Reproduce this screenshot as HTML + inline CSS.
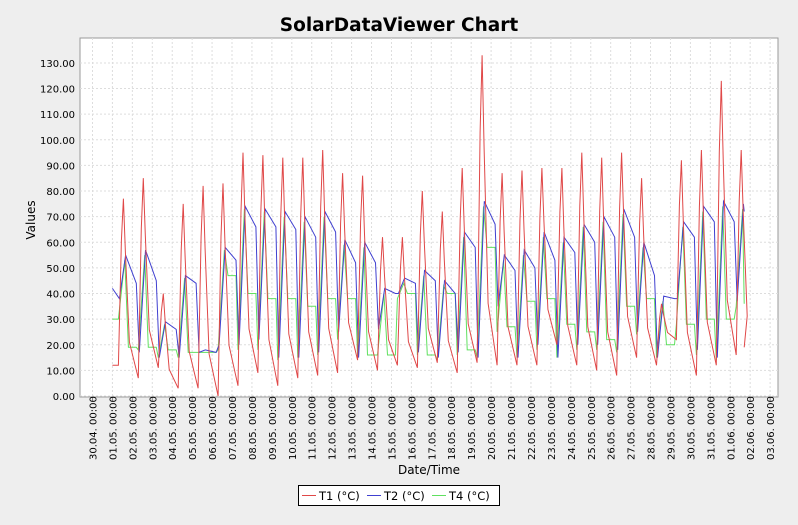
<!DOCTYPE html>
<html><head><meta charset="utf-8"><style>
body{margin:0;background:#eeeeee;font-family:"Liberation Sans","DejaVu Sans",sans-serif}
svg text{font-family:"DejaVu Sans","Liberation Sans",sans-serif}
</style></head><body>
<svg id="chart" width="798" height="520" xmlns="http://www.w3.org/2000/svg">
<rect x="0" y="0" width="798" height="520" fill="#eeeeee"/>
<text x="399" y="31" text-anchor="middle" font-size="18.5" font-weight="bold" fill="#000">SolarDataViewer Chart</text>
<rect x="80" y="38" width="698" height="359" fill="#fff" stroke="#999" stroke-width="1"/>
<g id="grid"></g><g id="yaxis"></g><g id="xaxis"></g><g id="series"></g>
<text transform="translate(35,220) rotate(-90)" text-anchor="middle" font-size="12">Values</text>
<text x="429" y="474" text-anchor="middle" font-size="12">Date/Time</text>
<g>
<rect x="298.5" y="485.5" width="201" height="20" fill="#fff" stroke="#000"/>
<g><line x1="302" y1="495.5" x2="316" y2="495.5" stroke="#e04848"/><text x="319" y="500" font-size="11.5">T1 (°C)</text></g>
<g><line x1="367" y1="495.5" x2="381" y2="495.5" stroke="#4040d0"/><text x="384" y="500" font-size="11.5">T2 (°C)</text></g>
<g><line x1="432" y1="495.5" x2="446" y2="495.5" stroke="#60e060"/><text x="449" y="500" font-size="11.5">T4 (°C)</text></g>
</g>
</svg>
<script>
const dayLabels=["30.04.","01.05.","02.05.","03.05.","04.05.","05.05.","06.05.","07.05.","08.05.","09.05.","10.05.","11.05.","12.05.","13.05.","14.05.","15.05.","16.05.","17.05.","18.05.","19.05.","20.05.","21.05.","22.05.","23.05.","24.05.","25.05.","26.05.","27.05.","28.05.","29.05.","30.05.","31.05.","01.06.","02.06.","03.06."];
const yTicks=[0,10,20,30,40,50,60,70,80,90,100,110,120,130];
// per day 01.05 (index 0) ... 01.06 (index 31); t1Min has extra night before 02.06
const t1Min=[12,7,11,3,3,0,4,9,4,7,8,9,14,10,12,11,13,9,13,12,12,12,20,12,10,8,15,12,22,8,12,16,15];
const t1Max=[77,85,40,75,82,83,95,94,93,93,96,87,86,62,62,80,72,89,133,87,88,89,89,95,93,95,85,36,92,96,123,96];
const t1End=19;
const t2Min=[38,17,15,15,17,20,20,22,15,15,17,25,15,26,40,17,15,17,15,35,15,20,15,20,20,18,25,15,38,18,15,37];
const t2Max=[55,57,29,47,18,58,74,73,72,70,72,61,60,42,46,49,45,64,76,55,57,64,62,67,70,73,60,39,68,74,76,75];
const t2Late=[44,45,26,44,17,53,66,66,65,62,64,52,52,40,44,45,40,58,67,49,50,53,56,60,62,62,47,38,62,68,68];
const t2End=72;
const t4Min=[30,18,15,15,17,18,18,18,14,15,16,22,15,16,38,16,14,16,15,25,15,18,15,18,18,17,24,15,28,16,14,35];
const t4Max=[53,55,28,46,17,57,73,72,70,68,70,59,58,40,44,47,43,62,74,53,55,62,60,66,68,71,58,37,66,72,74,73];
const t4Late=[19,19,18,17,17,47,40,38,38,35,38,38,16,16,40,16,40,18,58,27,37,38,28,25,22,35,38,20,28,30,30];
const t4End=36;

const X0=92.5,DX=19.93,Y0=396,KY=2.562;
const xs=d=>X0+d*DX, ys=v=>Y0-v*KY;
const NS="http://www.w3.org/2000/svg";
function mk(tag,attrs,parent){const e=document.createElementNS(NS,tag);for(const k in attrs)e.setAttribute(k,attrs[k]);parent.appendChild(e);return e;}
const grid=document.getElementById('grid'),ya=document.getElementById('yaxis'),xa=document.getElementById('xaxis'),ser=document.getElementById('series');
yTicks.forEach(v=>{
 const l=mk('line',{x1:80,x2:778,y1:ys(v),y2:ys(v),stroke:'#ddd','stroke-dasharray':'2,2'},grid);
 
 
 const t=mk('text',{x:75,y:ys(v)+4,'text-anchor':'end','font-size':'10'},ya);
 t.textContent=v.toFixed(2);
 
 
});
dayLabels.forEach((lab,i)=>{
 const x=xs(i);
 const g=mk('line',{x1:x,x2:x,y1:38,y2:397,stroke:'#ddd','stroke-dasharray':'2,2'},grid);
 
 
 const tk=mk('line',{x1:x,x2:x,y1:397,y2:401,stroke:'#888'},xa);
 
 
 const t=mk('text',{transform:`translate(${x+4},460) rotate(-90)`,'font-size':'10'},xa);
 t.textContent=lab+' 00:00';
 
 
});
function path(pts,color,name){
 const p=mk('path',{d:'M'+pts.map(q=>xs(q[0]).toFixed(1)+','+ys(q[1]).toFixed(1)).join('L'),fill:'none',stroke:color,'stroke-width':'1'},ser);
 
 
}
const END=32.7;
// T4
let p4=[[1,t4Min[0]]];
t4Max.forEach((m,i)=>{const d=i+1;p4.push([d+0.3,t4Min[i]]);p4.push([d+0.62,m]);if(i<t4Late.length){p4.push([d+0.8,t4Late[i]]);p4.push([d+1.2,t4Late[i]]);}});
p4.push([END,t4End]);
path(p4,'#60e060','series-t4');
// T2
let p2=[[1,42]];
t2Max.forEach((m,i)=>{const d=i+1;p2.push([d+0.35,t2Min[i]]);p2.push([d+0.66,m]);if(i<t2Late.length)p2.push([d+1.2,t2Late[i]]);});
p2.push([END,t2End]);
path(p2,'#4040d0','series-t2');
// T1
let p1=[[1,t1Min[0]]];
t1Max.forEach((m,i)=>{const d=i+1,lo=t1Min[i],nx=t1Min[i+1];
 p1.push([d+0.3,lo]);p1.push([d+0.45,lo+(m-lo)*0.75]);p1.push([d+0.55,m]);p1.push([d+0.65,nx+(m-nx)*0.7]);p1.push([d+0.85,nx+(m-nx)*0.2]);});
p1.push([END,t1End]);
path(p1,'#e04848','series-t1');
</script>
</body></html>
